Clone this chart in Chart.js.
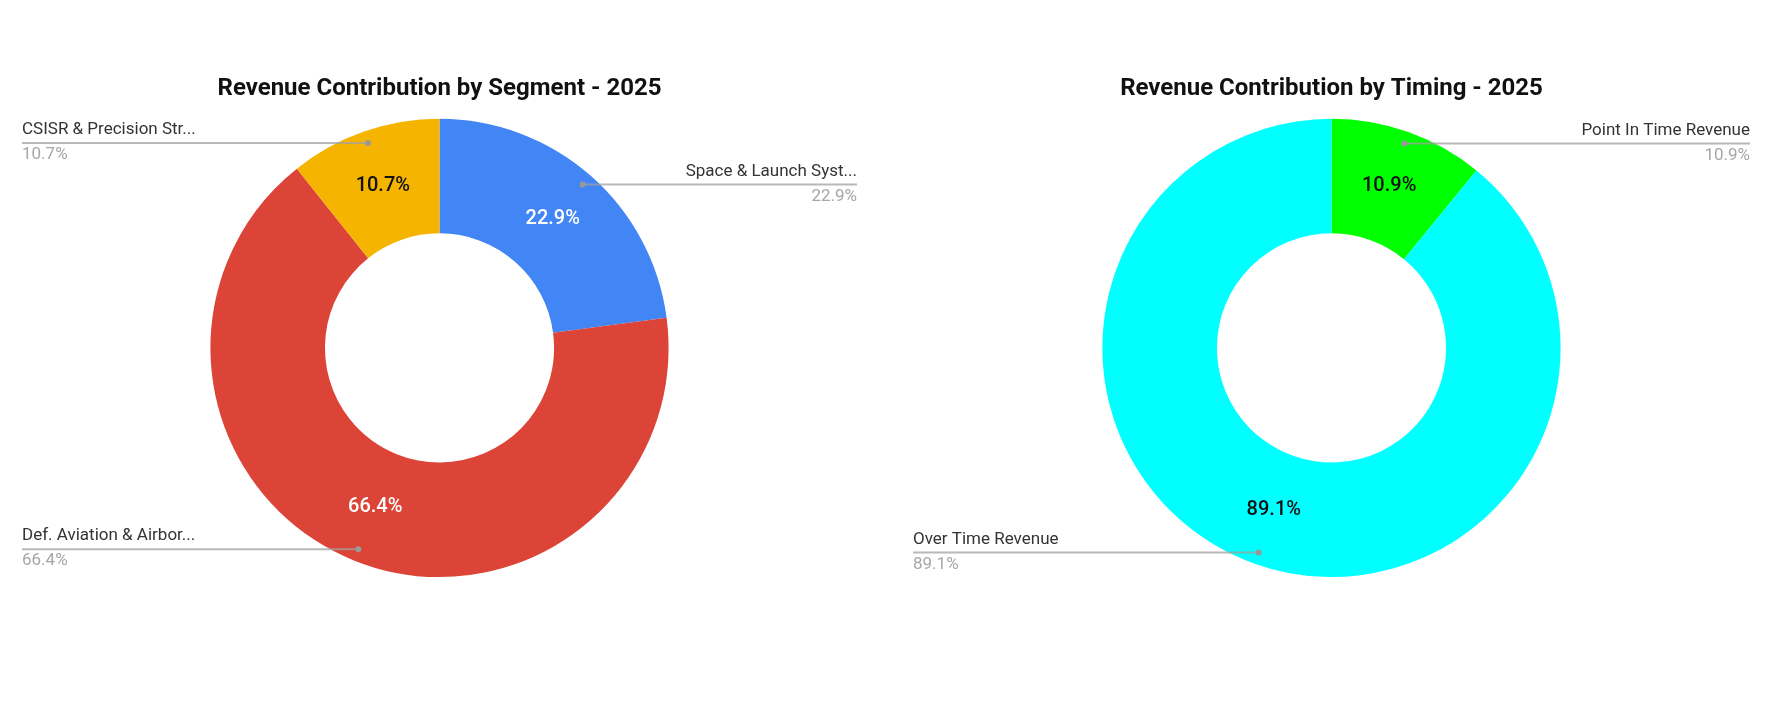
<!DOCTYPE html>
<html>
<head>
<meta charset="utf-8">
<script src="https://cdn.jsdelivr.net/npm/chart.js@4"></script>
<style>
    body { margin: 0; background: #fff; }
    .chart-box { position: absolute; top: 0; height: 728px; }
</style>
</head>
<body>
<div class="chart-box" style="left: 0; width: 879px;"><canvas id="segment" width="879" height="728"></canvas></div>
<div class="chart-box" style="left: 891px; width: 881px;"><canvas id="timing" width="881" height="728"></canvas></div>
<script>
const SEGMENT_LABELS = ['Space & Launch Syst...', 'Def. Aviation & Airbor...', 'CSISR & Precision Str...'];
const SEGMENT_VALUES = [22.9, 66.4, 10.7];
const SEGMENT_COLORS = ['#4285f4', '#db4437', '#f4b400'];
const SEGMENT_TEXT = ['#ffffff', '#ffffff', '#111111'];

const TIMING_LABELS = ['Point In Time Revenue', 'Over Time Revenue'];
const TIMING_VALUES = [10.9, 89.1];
const TIMING_COLORS = ['#00ff00', '#00ffff'];
const TIMING_TEXT = ['#111111', '#111111'];

const FONT = 'Roboto, "Noto Sans", sans-serif';

// percent inside each slice + google-style leader line with name/value at the edge
const sliceLabels = {
    id: 'sliceLabels',
    afterDatasetsDraw(chart, args, opts) {
        const ctx = chart.ctx;
        const meta = chart.getDatasetMeta(0);
        const data = chart.data.datasets[0].data;
        const total = data.reduce((a, b) => a + b, 0);
        ctx.save();
        meta.data.forEach((arc, i) => {
            const pct = (data[i] / total * 100).toFixed(1) + '%';
            const p = arc.tooltipPosition();
            ctx.font = '500 20px ' + FONT;
            ctx.fillStyle = opts.textColors[i];
            ctx.textAlign = 'center';
            ctx.textBaseline = 'middle';
            ctx.fillText(pct, p.x, p.y);

            const mid = (arc.startAngle + arc.endAngle) / 2;
            const r = arc.outerRadius - 12;
            const dx = arc.x + Math.cos(mid) * r;
            const dy = arc.y + Math.sin(mid) * r;
            const left = Math.cos(mid) < 0;
            const edge = left ? 22 : chart.width - 22;

            ctx.strokeStyle = 'rgba(160,160,160,0.75)';
            ctx.lineWidth = 2;
            ctx.beginPath();
            ctx.moveTo(dx, dy);
            ctx.lineTo(edge, dy);
            ctx.stroke();
            ctx.fillStyle = '#999999';
            ctx.beginPath();
            ctx.arc(dx, dy, 3, 0, Math.PI * 2);
            ctx.fill();

            ctx.textAlign = left ? 'left' : 'right';
            ctx.font = '17px ' + FONT;
            ctx.fillStyle = '#333333';
            ctx.fillText(chart.data.labels[i], edge, dy - 13);
            ctx.fillStyle = '#a6a6a6';
            ctx.fillText(pct, edge, dy + 12);
        });
        ctx.restore();
    }
};

function make_donut(id, title, labels, values, colors, textColors) {
    new Chart(document.getElementById(id), {
        type: 'doughnut',
        data: {
            labels: labels,
            datasets: [{
                data: values,
                backgroundColor: colors,
                borderWidth: 0,
                offset: 0,
                hoverOffset: 0
            }]
        },
        options: {
            responsive: false,
            animation: false,
            cutout: '50%',
            layout: { padding: { top: 0, bottom: 151, left: 0, right: 0 } },
            plugins: {
                legend: { display: false },
                tooltip: { enabled: false },
                title: {
                    display: true,
                    text: title,
                    color: '#111111',
                    font: { family: FONT, size: 24, weight: 'bold', lineHeight: 1.2 },
                    padding: { top: 75, bottom: 15 }
                },
                sliceLabels: { textColors: textColors }
            }
        },
        plugins: [sliceLabels]
    });
}

make_donut('segment', 'Revenue Contribution by Segment - 2025', SEGMENT_LABELS, SEGMENT_VALUES, SEGMENT_COLORS, SEGMENT_TEXT);
make_donut('timing', 'Revenue Contribution by Timing - 2025', TIMING_LABELS, TIMING_VALUES, TIMING_COLORS, TIMING_TEXT);
</script>
</body>
</html>
